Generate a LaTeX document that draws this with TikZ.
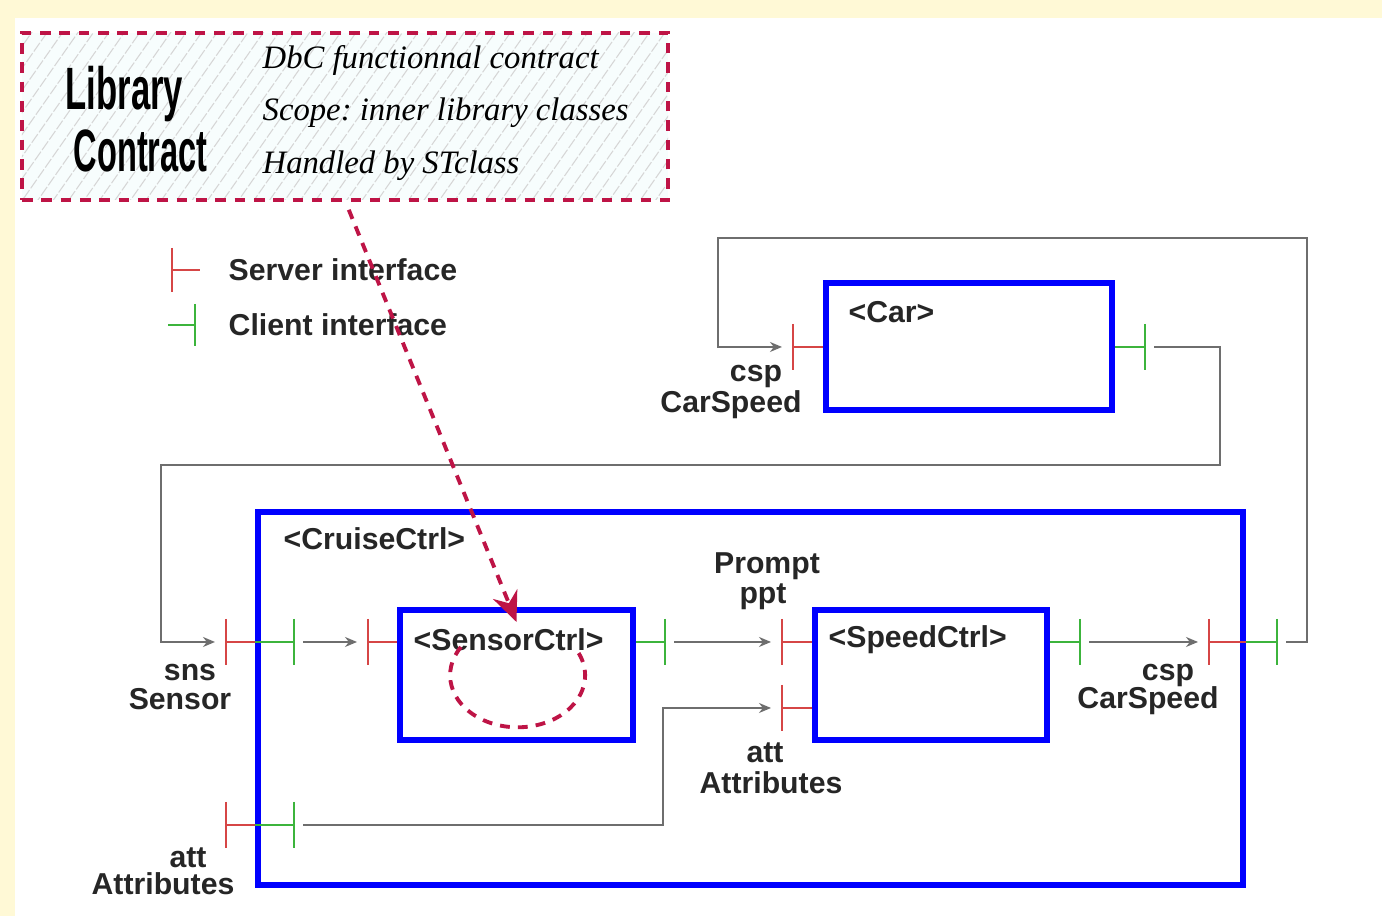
\documentclass[tikz,border=0pt]{standalone}
\usepackage{fontspec}
\setmainfont{Liberation Serif}
\setsansfont{Liberation Sans}
\definecolor{ccblue}{RGB}{0,0,255}
\definecolor{ccred}{RGB}{214,70,70}
\definecolor{ccgreen}{RGB}{60,180,60}
\definecolor{ccgray}{RGB}{110,110,110}
\definecolor{cccrimson}{RGB}{190,20,70}
\definecolor{cccream}{RGB}{255,249,214}
\definecolor{cchatch}{RGB}{247,253,253}
\usetikzlibrary{arrows.meta,positioning,patterns.meta}

\tikzset{
  comp/.style={draw=ccblue, line width=1.7pt, inner sep=0pt},
  srvtick/.style={draw=ccred, line width=0.6pt},
  clitick/.style={draw=ccgreen, line width=0.6pt},
  wire/.style={draw=ccgray, line width=0.45pt, -{Stealth[length=1.2mm,width=1mm]}, shorten <=0.09cm, shorten >=0.11cm},
  lbl/.style={font=\fontsize{8.6}{10}\selectfont\sffamily\bfseries, text=black!85, inner sep=0pt},
  ital/.style={font=\fontsize{9.3}{11}\selectfont\itshape, inner sep=0pt},
  bigtitle/.style={font=\fontsize{17}{18}\selectfont\sffamily\bfseries, inner sep=0pt},
  contractbox/.style={draw=cccrimson, line width=1.1pt, dash pattern=on 3pt off 2.5pt, preaction={fill=cchatch}, pattern={Lines[angle=55, distance=3.6pt, line width=0.3pt]}, pattern color=black!16, inner sep=0pt},
  contractline/.style={draw=cccrimson, line width=1.1pt, dash pattern=on 2.8pt off 2.3pt}
}

\begin{document}
\begin{tikzpicture}
  % Page background
  \fill[cccream] (0,0) rectangle (13.82,9.16);
  \fill[white] (0.15,0) rectangle (13.82,8.98);
  \useasboundingbox (0,0) rectangle (13.82,9.16);

  % Library contract
  \node[contractbox, minimum width=6.46cm, minimum height=1.67cm] (contract) at (3.45,7.995) {};
  \node[bigtitle, anchor=base west] (libword) at (0.65,8.06) {\scalebox{0.58}[1]{Library}};
  \node[bigtitle, anchor=base west] (conword) at (0.73,7.44) {\scalebox{0.545}[1]{Contract}};
  \node[ital, anchor=base west] (dbc) at (2.62,8.47) {DbC functionnal contract};
  \node[ital, anchor=base west] (scope) at (2.62,7.95) {Scope:\ inner library classes};
  \node[ital, anchor=base west] (handled) at (2.62,7.42) {Handled by STclass};

  % Legend
  \coordinate (legSrv) at (1.72,6.46);
  \coordinate (legCli) at (1.95,5.91);
  \draw[srvtick] ([yshift=2.2mm]legSrv) -- ([yshift=-2.2mm]legSrv);
  \draw[srvtick] (legSrv) -- ++(0.28,0);
  \draw[clitick] ([yshift=2.1mm]legCli) -- ([yshift=-2.1mm]legCli);
  \draw[clitick] (legCli) -- ++(-0.27,0);
  \node[lbl, anchor=west] (srvtxt) at (2.28,6.46) {Server interface};
  \node[lbl, anchor=west] (clitxt) at (2.28,5.91) {Client interface};

  % Components
  \node[comp, minimum width=2.86cm, minimum height=1.27cm] (car) at (9.69,5.695) {};
  \node[lbl, anchor=west] (carname) at (8.48,6.04) {<Car>};
  \node[comp, minimum width=9.85cm, minimum height=3.73cm] (cruise) at (7.505,2.175) {};
  \node[lbl, anchor=west] (cruisename) at (2.83,3.77) {<CruiseCtrl>};
  \node[comp, minimum width=2.33cm, minimum height=1.30cm] (sensor) at (5.165,2.41) {};
  \node[lbl, anchor=west] (sensorname) at (4.13,2.76) {<SensorCtrl>};
  \node[comp, minimum width=2.32cm, minimum height=1.30cm] (speed) at (9.31,2.41) {};
  \node[lbl, anchor=west] (speedname) at (8.28,2.76) {<SpeedCtrl>};

  % Port positions
  \coordinate (carIn) at (7.93,5.69);
  \coordinate (carOut) at (11.45,5.69);
  \coordinate (snsSrv) at (2.26,2.74);
  \coordinate (snsCli) at (2.94,2.74);
  \coordinate (sensIn) at (3.68,2.74);
  \coordinate (sensOut) at (6.65,2.74);
  \coordinate (pptIn) at (7.82,2.74);
  \coordinate (attIn) at (7.82,2.08);
  \coordinate (speedOut) at (10.80,2.74);
  \coordinate (cspSrv) at (12.09,2.74);
  \coordinate (cspCli) at (12.77,2.74);
  \coordinate (attSrv) at (2.26,0.91);
  \coordinate (attCli) at (2.94,0.91);

  % Server ports
  \draw[srvtick] ([yshift=2.3mm]carIn) -- ([yshift=-2.3mm]carIn);
  \draw[srvtick] (carIn) -- (car.west |- carIn);
  \draw[srvtick] ([yshift=2.3mm]snsSrv) -- ([yshift=-2.3mm]snsSrv);
  \draw[srvtick] (snsSrv) -- (cruise.west |- snsSrv);
  \draw[srvtick] ([yshift=2.3mm]sensIn) -- ([yshift=-2.3mm]sensIn);
  \draw[srvtick] (sensIn) -- (sensor.west |- sensIn);
  \draw[srvtick] ([yshift=2.3mm]pptIn) -- ([yshift=-2.3mm]pptIn);
  \draw[srvtick] (pptIn) -- (speed.west |- pptIn);
  \draw[srvtick] ([yshift=2.3mm]attIn) -- ([yshift=-2.3mm]attIn);
  \draw[srvtick] (attIn) -- (speed.west |- attIn);
  \draw[srvtick] ([yshift=2.3mm]cspSrv) -- ([yshift=-2.3mm]cspSrv);
  \draw[srvtick] (cspSrv) -- (cruise.east |- cspSrv);
  \draw[srvtick] ([yshift=2.3mm]attSrv) -- ([yshift=-2.3mm]attSrv);
  \draw[srvtick] (attSrv) -- (cruise.west |- attSrv);

  % Client ports
  \draw[clitick] ([yshift=2.3mm]carOut) -- ([yshift=-2.3mm]carOut);
  \draw[clitick] (car.east |- carOut) -- (carOut);
  \draw[clitick] ([yshift=2.3mm]snsCli) -- ([yshift=-2.3mm]snsCli);
  \draw[clitick] (cruise.west |- snsCli) -- (snsCli);
  \draw[clitick] ([yshift=2.3mm]sensOut) -- ([yshift=-2.3mm]sensOut);
  \draw[clitick] (sensor.east |- sensOut) -- (sensOut);
  \draw[clitick] ([yshift=2.3mm]speedOut) -- ([yshift=-2.3mm]speedOut);
  \draw[clitick] (speed.east |- speedOut) -- (speedOut);
  \draw[clitick] ([yshift=2.3mm]cspCli) -- ([yshift=-2.3mm]cspCli);
  \draw[clitick] (cruise.east |- cspCli) -- (cspCli);
  \draw[clitick] ([yshift=2.3mm]attCli) -- ([yshift=-2.3mm]attCli);
  \draw[clitick] (cruise.west |- attCli) -- (attCli);

  % Wires
  \draw[wire] (carOut) -- (12.20,5.69) |- (1.61,4.51) |- (snsSrv);
  \draw[wire] (cspCli) -- (13.07,2.74) |- (7.18,6.78) |- (carIn);
  \draw[wire] (snsCli) -- (sensIn);
  \draw[wire] (sensOut) -- (pptIn);
  \draw[wire] (speedOut) -- (cspSrv);
  \draw[wire] (attCli) -| (6.63,2.08) -- (attIn);

  % Port labels
  \node[lbl] (carcsp) at (7.56,5.39) {csp};
  \node[lbl] (carspd) at (7.31,5.11) {CarSpeed};
  \node[lbl] (snsname) at (1.90,2.43) {sns};
  \node[lbl] (snstype) at (1.80,2.17) {Sensor};
  \node[lbl] (pptname) at (7.67,3.50) {Prompt};
  \node[lbl] (ppttype) at (7.63,3.19) {ppt};
  \node[lbl] (attname) at (7.65,1.63) {att};
  \node[lbl] (atttype) at (7.71,1.33) {Attributes};
  \node[lbl] (cspname) at (11.68,2.40) {csp};
  \node[lbl] (csptype) at (11.48,2.15) {CarSpeed};
  \node[lbl] (att2name) at (1.88,0.58) {att};
  \node[lbl] (att2type) at (1.63,0.32) {Attributes};

  % Contract target
  \draw[contractline, -{Stealth[length=3mm,width=2.6mm]}, shorten <=1mm] (contract.south) -- ([yshift=-1.5mm]sensor.north);
  \draw[contractline] (4.61,2.69) arc[start angle=147, end angle=393, x radius=0.675cm, y radius=0.52cm];
\end{tikzpicture}
\end{document}
